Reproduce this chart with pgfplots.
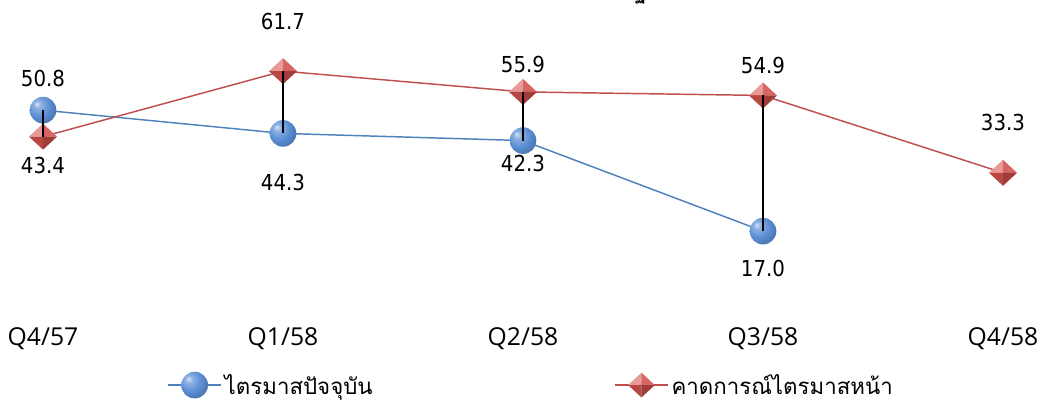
\documentclass[border=0pt]{standalone}
\usepackage{fontspec}
\usepackage{pgfplots}
\usepackage{pgfplotstable}
\pgfplotsset{compat=1.18}
\setmainfont{Liberation Sans}
\newfontfamily\thaifont[Script=Thai]{Loma}
\newfontfamily\tickfont{Open Sans}
\newfontfamily\lblfont{DejaVu Sans Condensed}

\definecolor{curblue}{HTML}{4F81BD}
\definecolor{ballblue}{HTML}{5B8FD5}
\definecolor{nxtred}{HTML}{C0504D}
\definecolor{redlite}{HTML}{E79A97}
\definecolor{redmid}{HTML}{D66663}
\definecolor{reddark}{HTML}{B84744}
\definecolor{reddeep}{HTML}{A03C3A}

% glossy sphere
\pgfdeclareradialshading{sph}{\pgfpoint{-12bp}{12bp}}{%
  color(0bp)=(ballblue!25!white); color(7bp)=(ballblue!70!white);
  color(20bp)=(ballblue); color(34bp)=(ballblue!80!black);
  color(50bp)=(ballblue!55!black); color(70bp)=(ballblue!55!black)}
\pgfdeclareplotmark{sph}{%
  \pgfpathcircle{\pgfpointorigin}{\pgfplotmarksize}%
  \pgfshadepath{sph}{0}\pgfusepath{}%
}
% shaded diamond, four facets
\pgfdeclareplotmark{pyr}{%
  \pgfmathsetmacro\a{\pgfplotmarksize}%
  \pgfmathsetmacro\b{0.93*\pgfplotmarksize}%
  \pgfsetfillcolor{redlite}%
  \pgfpathmoveto{\pgfpoint{0pt}{0pt}}\pgfpathlineto{\pgfpoint{-\a pt}{0pt}}\pgfpathlineto{\pgfpoint{0pt}{\b pt}}\pgfpathclose\pgfusepath{fill}%
  \pgfsetfillcolor{redmid}%
  \pgfpathmoveto{\pgfpoint{0pt}{0pt}}\pgfpathlineto{\pgfpoint{0pt}{\b pt}}\pgfpathlineto{\pgfpoint{\a pt}{0pt}}\pgfpathclose\pgfusepath{fill}%
  \pgfsetfillcolor{reddark}%
  \pgfpathmoveto{\pgfpoint{0pt}{0pt}}\pgfpathlineto{\pgfpoint{-\a pt}{0pt}}\pgfpathlineto{\pgfpoint{0pt}{-\b pt}}\pgfpathclose\pgfusepath{fill}%
  \pgfsetfillcolor{reddeep}%
  \pgfpathmoveto{\pgfpoint{0pt}{0pt}}\pgfpathlineto{\pgfpoint{0pt}{-\b pt}}\pgfpathlineto{\pgfpoint{\a pt}{0pt}}\pgfpathclose\pgfusepath{fill}%
}

\pgfplotstableread{
x y off
0 50.8 24
1 44.3 -36.75
2 42.3 -17.25
3 17.0 -27.75
}\cur
\pgfplotstableread{
x y off
0 43.4 -21.75
1 61.7 37.5
2 55.9 20.25
3 54.9 22.5
4 33.3 37.5
}\nxt

\pgfplotsset{vals/.style={
  nodes near coords={\pgfmathprintnumber[fixed,fixed zerofill,precision=1,assume math mode=true]{\pgfplotspointmeta}},
  visualization depends on={\thisrow{off}\as\off},
  every node near coord/.append style={anchor=center, yshift=\off pt, black,
    font=\lblfont\fontsize{16.5}{19}\selectfont}}}

\begin{document}
\begin{tikzpicture}
\begin{axis}[anchor=origin, x=180pt, y=2.685pt, set layers,
  xmin=0, xmax=4, ymin=0, ymax=80, clip=false,
  axis line style={draw=none}, tick style={draw=none},
  ytick=\empty, xtick={0,1,2,3,4},
  xticklabels={Q4/57,Q1/58,Q2/58,Q3/58,Q4/58},
  xticklabel style={font=\tickfont\fontsize{18.5}{22}\selectfont, anchor=center, yshift=-35.25pt},
  legend columns=2,
  legend style={draw=none, fill=none, at={(0.125,-0.325)}, anchor=west,
    font=\thaifont\fontsize{16.7}{20}\selectfont},
  legend image code/.code={\draw[mark repeat=2,mark phase=2,#1,mark size=10pt]
    plot coordinates {(0pt,0pt) (20pt,0pt) (40pt,0pt)};},
]
\addplot[curblue, line width=1.1pt, mark=sph, mark size=10pt, vals] table[x=x,y=y] {\cur};
\addlegendentry{\makebox[290pt][l]{ไตรมาสปัจจุบัน}}
\addplot[nxtred, line width=1.1pt, mark=pyr, mark size=10.5pt, vals] table[x=x,y=y] {\nxt};
\addlegendentry{คาดการณ์ไตรมาสหน้า}
\addplot[black, line width=1.5pt, forget plot, unbounded coords=jump, on layer=axis foreground]
  coordinates {(0,50.8) (0,43.4) (0.5,nan) (1,44.3) (1,61.7) (1.5,nan)
               (2,42.3) (2,55.9) (2.5,nan) (3,17.0) (3,54.9)};
\end{axis}
\node[anchor=base east, inner sep=0pt, font=\thaifont\bfseries\fontsize{16}{19}\selectfont]
  at (452.75pt,220.5pt) {ภาวะเศรษฐ};
\pgfresetboundingbox
\useasboundingbox (-32.25pt,-84.75pt) rectangle (747.75pt,219pt);
\end{tikzpicture}
\end{document}
